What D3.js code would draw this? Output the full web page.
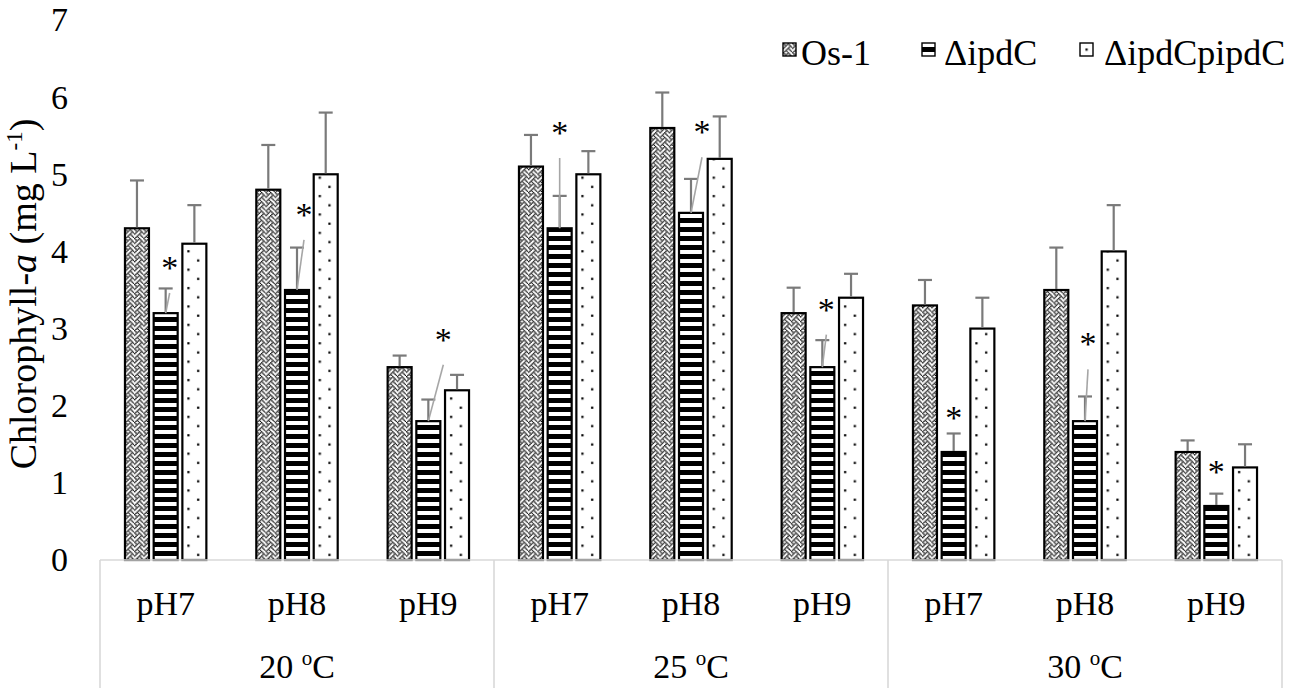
<!DOCTYPE html>
<html>
<head>
<meta charset="utf-8">
<script src="https://cdn.jsdelivr.net/npm/d3@7"></script>
<style>
  body { margin: 0; background: #fff; }
  text { font-family: "Liberation Serif", "Times New Roman", serif; fill: #000; }
</style>
</head>
<body>
<div id="chart"></div>
<script>
// ---- data ----
var temps = ["20", "25", "30"];
var phLabels = ["pH7", "pH8", "pH9"];
var seriesNames = ["Os-1", "\u0394ipdC", "\u0394ipdCpipdC"];

var os1Values     = [4.3, 4.8, 2.5, 5.1, 5.6, 3.2, 3.3, 3.5, 1.4];
var os1Errors     = [0.62, 0.58, 0.15, 0.41, 0.46, 0.33, 0.33, 0.55, 0.15];
var ipdcValues    = [3.2, 3.5, 1.8, 4.3, 4.5, 2.5, 1.4, 1.8, 0.7];
var ipdcErrors    = [0.32, 0.55, 0.28, 0.42, 0.44, 0.35, 0.24, 0.32, 0.16];
var compValues    = [4.1, 5.0, 2.2, 5.0, 5.2, 3.4, 3.0, 4.0, 1.2];
var compErrors    = [0.5, 0.8, 0.2, 0.3, 0.55, 0.31, 0.4, 0.6, 0.3];

// significance labels (asterisk) on the ΔipdC bars
var sigHeights = [3.85, 4.54, 2.92, 5.60, 5.61, 3.31, 1.90, 2.86, 1.21];
var sigShift   = [4, 7, 15, 0, 11, 4, 0, 3, 0];
var sigLeader  = [true, true, true, true, true, true, false, true, false];

var yTicks = [0, 1, 2, 3, 4, 5, 6, 7];

// ---- layout ----
var width = 1300, height = 697;
var plotLeft = 100, plotRight = 1282, plotTop = 20, plotBottom = 560;
var fontSize = 34;

var svg = d3.select("#chart").append("svg")
  .attr("width", width)
  .attr("height", height);

var defs = svg.append("defs");

var categories = [];
temps.forEach(function (t) {
  phLabels.forEach(function (p) { categories.push({ temp: t, ph: p, key: t + "-" + p }); });
});

var seriesValues = [os1Values, ipdcValues, compValues];
var seriesErrors = [os1Errors, ipdcErrors, compErrors];
var seriesKind = ["weave", "stripe", "dot"];

var x0 = d3.scaleBand()
  .domain(categories.map(function (d) { return d.key; }))
  .range([plotLeft, plotRight]);

var x1 = d3.scaleBand()
  .domain(seriesNames)
  .range([0, x0.bandwidth()])
  .paddingInner(0.164)
  .paddingOuter(0.87);

var xTemp = d3.scaleBand().domain(temps).range([plotLeft, plotRight]);

var y = d3.scaleLinear().domain([0, 7]).range([plotBottom, plotTop]);

// 8x8 "weave" hatch, like the office pattern fill
var weaveRows = [0x88, 0x54, 0x22, 0x45, 0x88, 0x14, 0x22, 0x51];

// pattern fills, anchored at the given origin
function addPattern(id, kind, ox, oy) {
  var p;
  if (kind === "weave") {
    var b = 1.15;
    p = defs.append("pattern").attr("id", id).attr("patternUnits", "userSpaceOnUse")
      .attr("x", ox).attr("y", oy).attr("width", 8 * b).attr("height", 8 * b);
    p.append("rect").attr("width", 8 * b).attr("height", 8 * b).attr("fill", "#fff");
    weaveRows.forEach(function (row, r) {
      for (var c = 0; c < 8; c++) {
        if (row & (0x80 >> c)) {
          p.append("rect").attr("x", c * b).attr("y", r * b)
            .attr("width", b * 1.15).attr("height", b * 1.15).attr("fill", "#000");
        }
      }
    });
  } else if (kind === "stripe") {
    p = defs.append("pattern").attr("id", id).attr("patternUnits", "userSpaceOnUse")
      .attr("x", ox).attr("y", oy).attr("width", 8).attr("height", 9);
    p.append("rect").attr("width", 8).attr("height", 9).attr("fill", "#fff");
    p.append("rect").attr("width", 8).attr("height", 5).attr("fill", "#000");
  } else {
    p = defs.append("pattern").attr("id", id).attr("patternUnits", "userSpaceOnUse")
      .attr("x", ox).attr("y", oy).attr("width", 19.4).attr("height", 18.4);
    p.append("rect").attr("width", 19.4).attr("height", 18.4).attr("fill", "#fff");
    p.append("rect").attr("x", 5).attr("y", 3).attr("width", 2.2).attr("height", 2.2).attr("fill", "#000");
    p.append("rect").attr("x", 14.7).attr("y", 12.2).attr("width", 2.2).attr("height", 2.2).attr("fill", "#000");
  }
}

// ---- bars ----
var barData = [];
seriesNames.forEach(function (s, si) {
  categories.forEach(function (c, ci) {
    barData.push({
      series: s, si: si, ci: ci, key: c.key,
      value: seriesValues[si][ci], err: seriesErrors[si][ci]
    });
  });
});

barData.forEach(function (d) {
  d.x = x0(d.key) + x1(d.series);
  d.w = x1.bandwidth();
  d.cx = d.x + d.w / 2;
  d.pid = "pat-" + d.si + "-" + d.ci;
  addPattern(d.pid, seriesKind[d.si], d.x, y(0));
});

var barG = svg.append("g").attr("class", "bars");
barG.selectAll("rect")
  .data(barData)
  .enter()
  .append("rect")
  .attr("x", function (d) { return d.x; })
  .attr("y", function (d) { return y(d.value); })
  .attr("width", function (d) { return d.w; })
  .attr("height", function (d) { return y(0) - y(d.value); })
  .attr("fill", function (d) { return "url(#" + d.pid + ")"; })
  .attr("stroke", "#000")
  .attr("stroke-width", 2.2);

// ---- error bars (upper only) ----
var errG = svg.append("g").attr("class", "errors")
  .attr("stroke", "#7a7a7a").attr("stroke-width", 2.2);
errG.selectAll("line.v")
  .data(barData)
  .enter()
  .append("line")
  .attr("class", "v")
  .attr("x1", function (d) { return d.cx; })
  .attr("x2", function (d) { return d.cx; })
  .attr("y1", function (d) { return y(d.value) - 1; })
  .attr("y2", function (d) { return y(d.value + d.err); });
errG.selectAll("line.cap")
  .data(barData)
  .enter()
  .append("line")
  .attr("class", "cap")
  .attr("x1", function (d) { return d.cx - 7; })
  .attr("x2", function (d) { return d.cx + 7; })
  .attr("y1", function (d) { return y(d.value + d.err); })
  .attr("y2", function (d) { return y(d.value + d.err); });

// ---- significance asterisks with leader lines ----
var sigData = categories.map(function (c, ci) {
  var cx = x0(c.key) + x1(seriesNames[1]) + x1.bandwidth() / 2;
  return {
    cx: cx, top: y(ipdcValues[ci]),
    sx: cx + sigShift[ci], sy: y(sigHeights[ci]), leader: sigLeader[ci]
  };
});

svg.append("g").attr("class", "leaders")
  .selectAll("line")
  .data(sigData.filter(function (d) { return d.leader; }))
  .enter()
  .append("line")
  .attr("x1", function (d) { return d.cx; })
  .attr("y1", function (d) { return d.top; })
  .attr("x2", function (d) { return d.sx; })
  .attr("y2", function (d) { return d.sy + 30; })
  .attr("stroke", "#a6a6a6")
  .attr("stroke-width", 1.6);

svg.append("g").attr("class", "sig")
  .selectAll("text")
  .data(sigData)
  .enter()
  .append("text")
  .attr("x", function (d) { return d.sx; })
  .attr("y", function (d) { return d.sy + 16; })
  .attr("text-anchor", "middle")
  .style("font-size", fontSize + "px")
  .text("*");

// ---- y axis ----
var yAxis = d3.axisLeft(y).tickValues(yTicks).tickSize(0).tickPadding(32).tickFormat(d3.format("d"));
var yG = svg.append("g")
  .attr("transform", "translate(" + plotLeft + ",0)")
  .call(yAxis);
yG.select(".domain").remove();
yG.selectAll("text")
  .style("font-size", fontSize + "px")
  .style("font-family", "'Liberation Serif', 'Times New Roman', serif")
  .attr("fill", "#000");

var title = svg.append("text")
  .attr("transform", "translate(36," + 294 + ") rotate(-90)")
  .attr("text-anchor", "middle")
  .style("font-size", "38px");
title.append("tspan").text("Chlorophyll-");
title.append("tspan").style("font-style", "italic").text("a");
title.append("tspan").text(" (mg L");
title.append("tspan").attr("dy", -14).style("font-size", "23px").text("-1");
title.append("tspan").attr("dy", 14).text(")");

// ---- x axis (two-level categories) ----
var axisColor = "#d9d9d9";
svg.append("line")
  .attr("x1", plotLeft).attr("x2", plotRight)
  .attr("y1", plotBottom).attr("y2", plotBottom)
  .attr("stroke", axisColor).attr("stroke-width", 1.6);

var sepPositions = temps.map(function (t) { return xTemp(t); }).concat([plotRight]);
svg.append("g").selectAll("line")
  .data(sepPositions)
  .enter()
  .append("line")
  .attr("x1", function (d) { return d; })
  .attr("x2", function (d) { return d; })
  .attr("y1", plotBottom)
  .attr("y2", 688)
  .attr("stroke", axisColor)
  .attr("stroke-width", 1.6);

svg.append("g").selectAll("text")
  .data(categories)
  .enter()
  .append("text")
  .attr("x", function (d) { return x0(d.key) + x0.bandwidth() / 2; })
  .attr("y", 615)
  .attr("text-anchor", "middle")
  .style("font-size", fontSize + "px")
  .text(function (d) { return d.ph; });

var tempText = svg.append("g").selectAll("text")
  .data(temps)
  .enter()
  .append("text")
  .attr("x", function (d) { return xTemp(d) + xTemp.bandwidth() / 2; })
  .attr("y", 678)
  .attr("text-anchor", "middle")
  .style("font-size", fontSize + "px");
tempText.append("tspan").text(function (d) { return d + " "; });
tempText.append("tspan").attr("dy", -13).style("font-size", "21px").text("o");
tempText.append("tspan").attr("dy", 13).text("C");

// ---- legend ----
var legend = svg.append("g").attr("class", "legend");
var legSwatchX = [783, 922, 1080], legTextX = [801, 944, 1104];
var ly = 43, sw = 13;
seriesNames.forEach(function (s, si) {
  var pid = "leg-" + si, lx = legSwatchX[si];
  if (seriesKind[si] === "weave") addPattern(pid, "weave", lx, ly);
  else if (seriesKind[si] === "stripe") addPattern(pid, "stripe", lx, ly + 4);
  else addPattern(pid, "dot", lx + 0.5, ly + 2.5);
  legend.append("rect")
    .attr("x", lx).attr("y", ly).attr("width", sw).attr("height", sw)
    .attr("fill", "url(#" + pid + ")")
    .attr("stroke", "#000").attr("stroke-width", 1.4);
  legend.append("text")
    .attr("x", legTextX[si])
    .attr("y", 65)
    .style("font-size", "36px")
    .text(s);
});
</script>
</body>
</html>
